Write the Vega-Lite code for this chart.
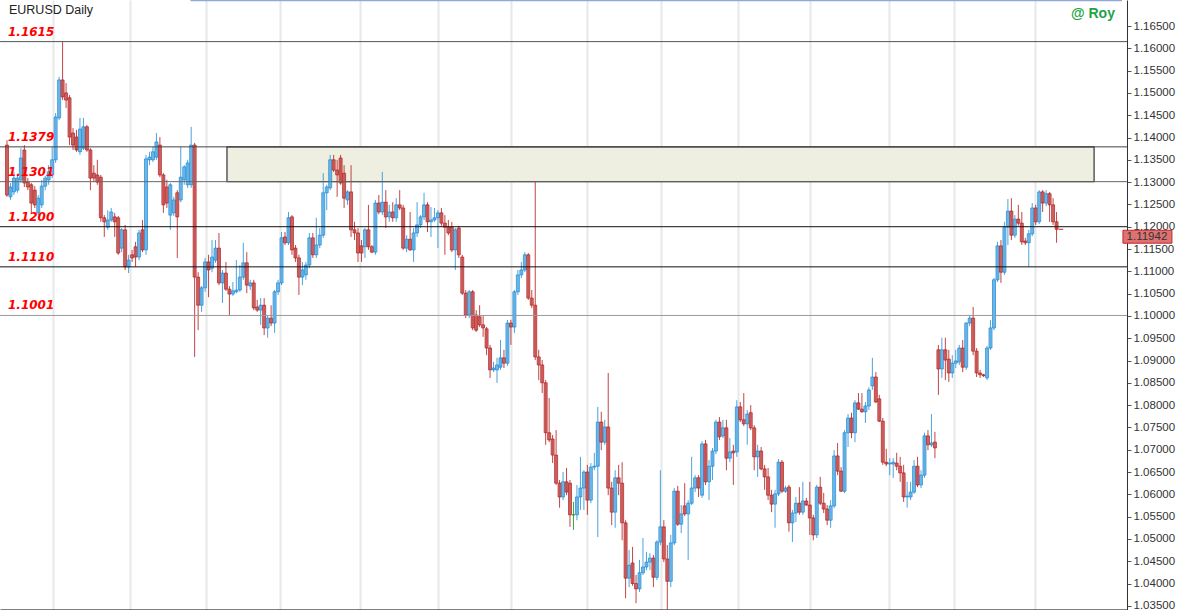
{
"$schema":"https://vega.github.io/schema/vega-lite/v6.json",
"width":1127,"height":610,
"autosize":{"type":"none"},
"padding":{"left":0,"top":0,"right":50,"bottom":0},
"background":"white",
"config":{"view":{"stroke":null},"font":"Liberation Sans","axis":{"labelOverlap":false}},
"datasets":{
"ohlc":[
{"i":0,"o":1.1383,"h":1.1394,"l":1.1267,"c":1.1271},
{"i":1,"o":1.1267,"h":1.1298,"l":1.1260,"c":1.1289},
{"i":2,"o":1.1278,"h":1.1323,"l":1.1271,"c":1.1309},
{"i":3,"o":1.1282,"h":1.1316,"l":1.1276,"c":1.1309},
{"i":4,"o":1.1305,"h":1.1376,"l":1.1298,"c":1.1354},
{"i":5,"o":1.1372,"h":1.1383,"l":1.1289,"c":1.1298},
{"i":6,"o":1.1300,"h":1.1309,"l":1.1282,"c":1.1289},
{"i":7,"o":1.1294,"h":1.1298,"l":1.1231,"c":1.1253},
{"i":8,"o":1.1282,"h":1.1291,"l":1.1242,"c":1.1249},
{"i":9,"o":1.1231,"h":1.1271,"l":1.1226,"c":1.1264},
{"i":10,"o":1.1249,"h":1.1305,"l":1.1242,"c":1.1291},
{"i":11,"o":1.1291,"h":1.1314,"l":1.1282,"c":1.1309},
{"i":12,"o":1.1305,"h":1.1338,"l":1.1294,"c":1.1323},
{"i":13,"o":1.1316,"h":1.1379,"l":1.1309,"c":1.1350},
{"i":14,"o":1.1350,"h":1.1455,"l":1.1343,"c":1.1446},
{"i":15,"o":1.1444,"h":1.1536,"l":1.1439,"c":1.1529},
{"i":16,"o":1.1529,"h":1.1615,"l":1.1484,"c":1.1491},
{"i":17,"o":1.1500,"h":1.1522,"l":1.1466,"c":1.1484},
{"i":18,"o":1.1489,"h":1.1495,"l":1.1383,"c":1.1401},
{"i":19,"o":1.1410,"h":1.1421,"l":1.1372,"c":1.1383},
{"i":20,"o":1.1401,"h":1.1417,"l":1.1368,"c":1.1372},
{"i":21,"o":1.1368,"h":1.1444,"l":1.1361,"c":1.1419},
{"i":22,"o":1.1376,"h":1.1444,"l":1.1372,"c":1.1424},
{"i":23,"o":1.1424,"h":1.1428,"l":1.1368,"c":1.1372},
{"i":24,"o":1.1372,"h":1.1376,"l":1.1282,"c":1.1309},
{"i":25,"o":1.1320,"h":1.1338,"l":1.1300,"c":1.1309},
{"i":26,"o":1.1316,"h":1.1350,"l":1.1294,"c":1.1300},
{"i":27,"o":1.1311,"h":1.1316,"l":1.1211,"c":1.1220},
{"i":28,"o":1.1220,"h":1.1226,"l":1.1177,"c":1.1211},
{"i":29,"o":1.1199,"h":1.1237,"l":1.1193,"c":1.1215},
{"i":30,"o":1.1215,"h":1.1242,"l":1.1211,"c":1.1233},
{"i":31,"o":1.1222,"h":1.1231,"l":1.1177,"c":1.1211},
{"i":32,"o":1.1220,"h":1.1224,"l":1.1137,"c":1.1141},
{"i":33,"o":1.1152,"h":1.1197,"l":1.1143,"c":1.1193},
{"i":34,"o":1.1193,"h":1.1204,"l":1.1103,"c":1.1110},
{"i":35,"o":1.1110,"h":1.1137,"l":1.1096,"c":1.1125},
{"i":36,"o":1.1137,"h":1.1148,"l":1.1121,"c":1.1130},
{"i":37,"o":1.1155,"h":1.1166,"l":1.1110,"c":1.1132},
{"i":38,"o":1.1132,"h":1.1193,"l":1.1125,"c":1.1186},
{"i":39,"o":1.1193,"h":1.1215,"l":1.1143,"c":1.1148},
{"i":40,"o":1.1148,"h":1.1361,"l":1.1137,"c":1.1352},
{"i":41,"o":1.1350,"h":1.1368,"l":1.1338,"c":1.1356},
{"i":42,"o":1.1350,"h":1.1379,"l":1.1345,"c":1.1368},
{"i":43,"o":1.1356,"h":1.1410,"l":1.1350,"c":1.1390},
{"i":44,"o":1.1383,"h":1.1401,"l":1.1311,"c":1.1316},
{"i":45,"o":1.1316,"h":1.1320,"l":1.1231,"c":1.1249},
{"i":46,"o":1.1289,"h":1.1305,"l":1.1242,"c":1.1253},
{"i":47,"o":1.1226,"h":1.1298,"l":1.1193,"c":1.1294},
{"i":48,"o":1.1231,"h":1.1267,"l":1.1224,"c":1.1260},
{"i":49,"o":1.1276,"h":1.1282,"l":1.1130,"c":1.1222},
{"i":50,"o":1.1260,"h":1.1379,"l":1.1255,"c":1.1311},
{"i":51,"o":1.1305,"h":1.1338,"l":1.1294,"c":1.1334},
{"i":52,"o":1.1294,"h":1.1350,"l":1.1287,"c":1.1343},
{"i":53,"o":1.1294,"h":1.1424,"l":1.1287,"c":1.1383},
{"i":54,"o":1.1383,"h":1.1388,"l":1.0908,"c":1.1087},
{"i":55,"o":1.1087,"h":1.1098,"l":1.0968,"c":1.1024},
{"i":56,"o":1.1024,"h":1.1067,"l":1.1009,"c":1.1063},
{"i":57,"o":1.1063,"h":1.1130,"l":1.1054,"c":1.1121},
{"i":58,"o":1.1121,"h":1.1137,"l":1.1042,"c":1.1103},
{"i":59,"o":1.1107,"h":1.1170,"l":1.1098,"c":1.1132},
{"i":60,"o":1.1125,"h":1.1170,"l":1.1119,"c":1.1152},
{"i":61,"o":1.1152,"h":1.1186,"l":1.1069,"c":1.1074},
{"i":62,"o":1.1074,"h":1.1103,"l":1.1029,"c":1.1096},
{"i":63,"o":1.1096,"h":1.1121,"l":1.1056,"c":1.1060},
{"i":64,"o":1.1060,"h":1.1067,"l":1.1002,"c":1.1049},
{"i":65,"o":1.1049,"h":1.1076,"l":1.1045,"c":1.1056},
{"i":66,"o":1.1054,"h":1.1125,"l":1.1051,"c":1.1058},
{"i":67,"o":1.1058,"h":1.1114,"l":1.1054,"c":1.1087},
{"i":68,"o":1.1087,"h":1.1164,"l":1.1081,"c":1.1119},
{"i":69,"o":1.1119,"h":1.1143,"l":1.1051,"c":1.1069},
{"i":70,"o":1.1067,"h":1.1081,"l":1.1058,"c":1.1074},
{"i":71,"o":1.1074,"h":1.1081,"l":1.1013,"c":1.1018},
{"i":72,"o":1.1020,"h":1.1036,"l":1.1009,"c":1.1013},
{"i":73,"o":1.1013,"h":1.1040,"l":1.0980,"c":1.1024},
{"i":74,"o":1.1024,"h":1.1040,"l":1.0957,"c":1.0973},
{"i":75,"o":1.0973,"h":1.1002,"l":1.0951,"c":1.0995},
{"i":76,"o":1.0995,"h":1.1024,"l":1.0977,"c":1.0984},
{"i":77,"o":1.0984,"h":1.1058,"l":1.0962,"c":1.1054},
{"i":78,"o":1.1054,"h":1.1081,"l":1.1047,"c":1.1074},
{"i":79,"o":1.1074,"h":1.1188,"l":1.1069,"c":1.1175},
{"i":80,"o":1.1177,"h":1.1188,"l":1.1159,"c":1.1164},
{"i":81,"o":1.1164,"h":1.1233,"l":1.1159,"c":1.1220},
{"i":82,"o":1.1222,"h":1.1226,"l":1.1137,"c":1.1148},
{"i":83,"o":1.1152,"h":1.1159,"l":1.1121,"c":1.1130},
{"i":84,"o":1.1130,"h":1.1137,"l":1.1047,"c":1.1087},
{"i":85,"o":1.1087,"h":1.1121,"l":1.1069,"c":1.1103},
{"i":86,"o":1.1092,"h":1.1121,"l":1.1081,"c":1.1114},
{"i":87,"o":1.1114,"h":1.1186,"l":1.1107,"c":1.1175},
{"i":88,"o":1.1175,"h":1.1186,"l":1.1130,"c":1.1137},
{"i":89,"o":1.1137,"h":1.1220,"l":1.1130,"c":1.1159},
{"i":90,"o":1.1159,"h":1.1197,"l":1.1152,"c":1.1181},
{"i":91,"o":1.1181,"h":1.1320,"l":1.1175,"c":1.1276},
{"i":92,"o":1.1276,"h":1.1294,"l":1.1237,"c":1.1289},
{"i":93,"o":1.1287,"h":1.1361,"l":1.1282,"c":1.1350},
{"i":94,"o":1.1350,"h":1.1361,"l":1.1323,"c":1.1327},
{"i":95,"o":1.1327,"h":1.1350,"l":1.1267,"c":1.1316},
{"i":96,"o":1.1354,"h":1.1361,"l":1.1294,"c":1.1298},
{"i":97,"o":1.1320,"h":1.1338,"l":1.1242,"c":1.1264},
{"i":98,"o":1.1260,"h":1.1282,"l":1.1249,"c":1.1278},
{"i":99,"o":1.1278,"h":1.1338,"l":1.1177,"c":1.1193},
{"i":100,"o":1.1193,"h":1.1211,"l":1.1170,"c":1.1186},
{"i":101,"o":1.1186,"h":1.1197,"l":1.1121,"c":1.1141},
{"i":102,"o":1.1157,"h":1.1170,"l":1.1121,"c":1.1141},
{"i":103,"o":1.1155,"h":1.1197,"l":1.1130,"c":1.1193},
{"i":104,"o":1.1193,"h":1.1249,"l":1.1148,"c":1.1155},
{"i":105,"o":1.1155,"h":1.1159,"l":1.1141,"c":1.1143},
{"i":106,"o":1.1143,"h":1.1260,"l":1.1137,"c":1.1253},
{"i":107,"o":1.1253,"h":1.1271,"l":1.1228,"c":1.1233},
{"i":108,"o":1.1233,"h":1.1323,"l":1.1226,"c":1.1255},
{"i":109,"o":1.1255,"h":1.1282,"l":1.1197,"c":1.1222},
{"i":110,"o":1.1222,"h":1.1249,"l":1.1211,"c":1.1233},
{"i":111,"o":1.1233,"h":1.1255,"l":1.1211,"c":1.1220},
{"i":112,"o":1.1220,"h":1.1264,"l":1.1211,"c":1.1249},
{"i":113,"o":1.1249,"h":1.1282,"l":1.1237,"c":1.1242},
{"i":114,"o":1.1242,"h":1.1249,"l":1.1148,"c":1.1152},
{"i":115,"o":1.1152,"h":1.1181,"l":1.1143,"c":1.1172},
{"i":116,"o":1.1172,"h":1.1233,"l":1.1146,"c":1.1148},
{"i":117,"o":1.1148,"h":1.1197,"l":1.1121,"c":1.1186},
{"i":118,"o":1.1186,"h":1.1255,"l":1.1177,"c":1.1204},
{"i":119,"o":1.1204,"h":1.1226,"l":1.1197,"c":1.1222},
{"i":120,"o":1.1222,"h":1.1276,"l":1.1215,"c":1.1249},
{"i":121,"o":1.1249,"h":1.1255,"l":1.1188,"c":1.1211},
{"i":122,"o":1.1211,"h":1.1244,"l":1.1177,"c":1.1215},
{"i":123,"o":1.1215,"h":1.1242,"l":1.1211,"c":1.1220},
{"i":124,"o":1.1220,"h":1.1237,"l":1.1152,"c":1.1231},
{"i":125,"o":1.1231,"h":1.1242,"l":1.1202,"c":1.1208},
{"i":126,"o":1.1208,"h":1.1226,"l":1.1137,"c":1.1199},
{"i":127,"o":1.1199,"h":1.1215,"l":1.1181,"c":1.1186},
{"i":128,"o":1.1199,"h":1.1211,"l":1.1143,"c":1.1148},
{"i":129,"o":1.1148,"h":1.1197,"l":1.1103,"c":1.1193},
{"i":130,"o":1.1197,"h":1.1202,"l":1.1130,"c":1.1137},
{"i":131,"o":1.1132,"h":1.1137,"l":1.1047,"c":1.1051},
{"i":132,"o":1.1051,"h":1.1058,"l":1.0995,"c":1.1002},
{"i":133,"o":1.1002,"h":1.1058,"l":1.0995,"c":1.1054},
{"i":134,"o":1.1054,"h":1.1058,"l":1.0968,"c":1.0973},
{"i":135,"o":1.1002,"h":1.1013,"l":1.0964,"c":1.0968},
{"i":136,"o":1.0998,"h":1.1024,"l":1.0975,"c":1.0980},
{"i":137,"o":1.0980,"h":1.1002,"l":1.0953,"c":1.0973},
{"i":138,"o":1.0971,"h":1.0975,"l":1.0912,"c":1.0928},
{"i":139,"o":1.0928,"h":1.0935,"l":1.0861,"c":1.0879},
{"i":140,"o":1.0879,"h":1.0897,"l":1.0874,"c":1.0883},
{"i":141,"o":1.0879,"h":1.0906,"l":1.0850,"c":1.0890},
{"i":142,"o":1.0885,"h":1.0946,"l":1.0879,"c":1.0906},
{"i":143,"o":1.0906,"h":1.0924,"l":1.0883,"c":1.0894},
{"i":144,"o":1.0894,"h":1.0991,"l":1.0888,"c":1.0984},
{"i":145,"o":1.0984,"h":1.0991,"l":1.0935,"c":1.0975},
{"i":146,"o":1.0975,"h":1.1058,"l":1.0962,"c":1.1054},
{"i":147,"o":1.1054,"h":1.1103,"l":1.1047,"c":1.1092},
{"i":148,"o":1.1092,"h":1.1121,"l":1.1085,"c":1.1103},
{"i":149,"o":1.1103,"h":1.1143,"l":1.1098,"c":1.1137},
{"i":150,"o":1.1137,"h":1.1141,"l":1.1036,"c":1.1040},
{"i":151,"o":1.1040,"h":1.1058,"l":1.1018,"c":1.1024},
{"i":152,"o":1.1024,"h":1.1301,"l":1.0901,"c":1.0908},
{"i":153,"o":1.0908,"h":1.0924,"l":1.0856,"c":1.0890},
{"i":154,"o":1.0890,"h":1.0901,"l":1.0827,"c":1.0850},
{"i":155,"o":1.0850,"h":1.0856,"l":1.0711,"c":1.0738},
{"i":156,"o":1.0738,"h":1.0816,"l":1.0717,"c":1.0722},
{"i":157,"o":1.0724,"h":1.0733,"l":1.0670,"c":1.0688},
{"i":158,"o":1.0688,"h":1.0744,"l":1.0621,"c":1.0625},
{"i":159,"o":1.0625,"h":1.0632,"l":1.0570,"c":1.0594},
{"i":160,"o":1.0594,"h":1.0650,"l":1.0587,"c":1.0628},
{"i":161,"o":1.0628,"h":1.0659,"l":1.0598,"c":1.0605},
{"i":162,"o":1.0625,"h":1.0632,"l":1.0527,"c":1.0554},
{"i":163,"o":1.0554,"h":1.0583,"l":1.0520,"c":1.0554},
{"i":164,"o":1.0554,"h":1.0621,"l":1.0542,"c":1.0594},
{"i":165,"o":1.0594,"h":1.0684,"l":1.0565,"c":1.0614},
{"i":166,"o":1.0614,"h":1.0654,"l":1.0565,"c":1.0650},
{"i":167,"o":1.0650,"h":1.0666,"l":1.0554,"c":1.0587},
{"i":168,"o":1.0587,"h":1.0670,"l":1.0580,"c":1.0661},
{"i":169,"o":1.0661,"h":1.0693,"l":1.0654,"c":1.0663},
{"i":170,"o":1.0663,"h":1.0796,"l":1.0504,"c":1.0762},
{"i":171,"o":1.0762,"h":1.0785,"l":1.0699,"c":1.0717},
{"i":172,"o":1.0717,"h":1.0767,"l":1.0711,"c":1.0751},
{"i":173,"o":1.0751,"h":1.0872,"l":1.0598,"c":1.0614},
{"i":174,"o":1.0614,"h":1.0628,"l":1.0531,"c":1.0560},
{"i":175,"o":1.0560,"h":1.0654,"l":1.0525,"c":1.0637},
{"i":176,"o":1.0637,"h":1.0666,"l":1.0598,"c":1.0625},
{"i":177,"o":1.0625,"h":1.0672,"l":1.0497,"c":1.0536},
{"i":178,"o":1.0536,"h":1.0542,"l":1.0367,"c":1.0412},
{"i":179,"o":1.0412,"h":1.0475,"l":1.0392,"c":1.0441},
{"i":180,"o":1.0446,"h":1.0482,"l":1.0395,"c":1.0400},
{"i":181,"o":1.0400,"h":1.0419,"l":1.0356,"c":1.0388},
{"i":182,"o":1.0388,"h":1.0453,"l":1.0381,"c":1.0424},
{"i":183,"o":1.0424,"h":1.0502,"l":1.0419,"c":1.0437},
{"i":184,"o":1.0437,"h":1.0471,"l":1.0430,"c":1.0448},
{"i":185,"o":1.0448,"h":1.0468,"l":1.0430,"c":1.0457},
{"i":186,"o":1.0457,"h":1.0464,"l":1.0392,"c":1.0414},
{"i":187,"o":1.0414,"h":1.0497,"l":1.0408,"c":1.0493},
{"i":188,"o":1.0493,"h":1.0654,"l":1.0486,"c":1.0527},
{"i":189,"o":1.0527,"h":1.0542,"l":1.0448,"c":1.0455},
{"i":190,"o":1.0455,"h":1.0486,"l":1.0341,"c":1.0405},
{"i":191,"o":1.0405,"h":1.0509,"l":1.0392,"c":1.0491},
{"i":192,"o":1.0491,"h":1.0614,"l":1.0486,"c":1.0607},
{"i":193,"o":1.0607,"h":1.0619,"l":1.0529,"c":1.0533},
{"i":194,"o":1.0533,"h":1.0576,"l":1.0513,"c":1.0556},
{"i":195,"o":1.0574,"h":1.0625,"l":1.0551,"c":1.0556},
{"i":196,"o":1.0556,"h":1.0587,"l":1.0453,"c":1.0580},
{"i":197,"o":1.0580,"h":1.0684,"l":1.0576,"c":1.0614},
{"i":198,"o":1.0614,"h":1.0643,"l":1.0605,"c":1.0637},
{"i":199,"o":1.0637,"h":1.0643,"l":1.0594,"c":1.0614},
{"i":200,"o":1.0598,"h":1.0719,"l":1.0592,"c":1.0713},
{"i":201,"o":1.0713,"h":1.0722,"l":1.0621,"c":1.0628},
{"i":202,"o":1.0628,"h":1.0677,"l":1.0587,"c":1.0663},
{"i":203,"o":1.0663,"h":1.0704,"l":1.0632,"c":1.0697},
{"i":204,"o":1.0697,"h":1.0767,"l":1.0690,"c":1.0762},
{"i":205,"o":1.0762,"h":1.0773,"l":1.0722,"c":1.0729},
{"i":206,"o":1.0731,"h":1.0767,"l":1.0726,"c":1.0749},
{"i":207,"o":1.0749,"h":1.0767,"l":1.0654,"c":1.0681},
{"i":208,"o":1.0681,"h":1.0726,"l":1.0672,"c":1.0695},
{"i":209,"o":1.0697,"h":1.0711,"l":1.0621,"c":1.0693},
{"i":210,"o":1.0695,"h":1.0811,"l":1.0684,"c":1.0796},
{"i":211,"o":1.0796,"h":1.0807,"l":1.0762,"c":1.0767},
{"i":212,"o":1.0767,"h":1.0827,"l":1.0753,"c":1.0758},
{"i":213,"o":1.0758,"h":1.0789,"l":1.0711,"c":1.0780},
{"i":214,"o":1.0783,"h":1.0800,"l":1.0744,"c":1.0749},
{"i":215,"o":1.0749,"h":1.0755,"l":1.0654,"c":1.0684},
{"i":216,"o":1.0684,"h":1.0711,"l":1.0639,"c":1.0697},
{"i":217,"o":1.0697,"h":1.0706,"l":1.0654,"c":1.0657},
{"i":218,"o":1.0657,"h":1.0666,"l":1.0610,"c":1.0639},
{"i":219,"o":1.0639,"h":1.0659,"l":1.0587,"c":1.0598},
{"i":220,"o":1.0598,"h":1.0610,"l":1.0560,"c":1.0578},
{"i":221,"o":1.0578,"h":1.0610,"l":1.0525,"c":1.0601},
{"i":222,"o":1.0601,"h":1.0679,"l":1.0596,"c":1.0672},
{"i":223,"o":1.0672,"h":1.0677,"l":1.0603,"c":1.0607},
{"i":224,"o":1.0607,"h":1.0619,"l":1.0603,"c":1.0614},
{"i":225,"o":1.0616,"h":1.0621,"l":1.0516,"c":1.0536},
{"i":226,"o":1.0536,"h":1.0565,"l":1.0493,"c":1.0558},
{"i":227,"o":1.0558,"h":1.0594,"l":1.0538,"c":1.0580},
{"i":228,"o":1.0580,"h":1.0616,"l":1.0554,"c":1.0560},
{"i":229,"o":1.0560,"h":1.0628,"l":1.0554,"c":1.0585},
{"i":230,"o":1.0585,"h":1.0592,"l":1.0574,"c":1.0576},
{"i":231,"o":1.0576,"h":1.0628,"l":1.0509,"c":1.0547},
{"i":232,"o":1.0547,"h":1.0554,"l":1.0497,"c":1.0509},
{"i":233,"o":1.0509,"h":1.0621,"l":1.0502,"c":1.0616},
{"i":234,"o":1.0616,"h":1.0639,"l":1.0576,"c":1.0580},
{"i":235,"o":1.0580,"h":1.0603,"l":1.0558,"c":1.0567},
{"i":236,"o":1.0567,"h":1.0576,"l":1.0531,"c":1.0542},
{"i":237,"o":1.0542,"h":1.0587,"l":1.0525,"c":1.0574},
{"i":238,"o":1.0574,"h":1.0699,"l":1.0569,"c":1.0686},
{"i":239,"o":1.0686,"h":1.0715,"l":1.0643,"c":1.0652},
{"i":240,"o":1.0652,"h":1.0661,"l":1.0605,"c":1.0607},
{"i":241,"o":1.0607,"h":1.0744,"l":1.0603,"c":1.0738},
{"i":242,"o":1.0738,"h":1.0780,"l":1.0706,"c":1.0771},
{"i":243,"o":1.0771,"h":1.0783,"l":1.0726,"c":1.0738},
{"i":244,"o":1.0738,"h":1.0811,"l":1.0717,"c":1.0805},
{"i":245,"o":1.0805,"h":1.0827,"l":1.0789,"c":1.0791},
{"i":246,"o":1.0791,"h":1.0827,"l":1.0783,"c":1.0785},
{"i":247,"o":1.0785,"h":1.0807,"l":1.0760,"c":1.0798},
{"i":248,"o":1.0798,"h":1.0840,"l":1.0789,"c":1.0834},
{"i":249,"o":1.0843,"h":1.0906,"l":1.0834,"c":1.0863},
{"i":250,"o":1.0863,"h":1.0874,"l":1.0805,"c":1.0807},
{"i":251,"o":1.0814,"h":1.0823,"l":1.0762,"c":1.0764},
{"i":252,"o":1.0764,"h":1.0771,"l":1.0666,"c":1.0672},
{"i":253,"o":1.0672,"h":1.0702,"l":1.0663,"c":1.0668},
{"i":254,"o":1.0668,"h":1.0681,"l":1.0643,"c":1.0670},
{"i":255,"o":1.0668,"h":1.0681,"l":1.0637,"c":1.0672},
{"i":256,"o":1.0670,"h":1.0693,"l":1.0654,"c":1.0663},
{"i":257,"o":1.0663,"h":1.0684,"l":1.0628,"c":1.0648},
{"i":258,"o":1.0648,"h":1.0666,"l":1.0583,"c":1.0594},
{"i":259,"o":1.0594,"h":1.0628,"l":1.0570,"c":1.0596},
{"i":260,"o":1.0594,"h":1.0628,"l":1.0587,"c":1.0605},
{"i":261,"o":1.0605,"h":1.0677,"l":1.0601,"c":1.0663},
{"i":262,"o":1.0663,"h":1.0684,"l":1.0616,"c":1.0621},
{"i":263,"o":1.0621,"h":1.0654,"l":1.0614,"c":1.0643},
{"i":264,"o":1.0643,"h":1.0738,"l":1.0637,"c":1.0731},
{"i":265,"o":1.0731,"h":1.0744,"l":1.0699,"c":1.0711},
{"i":266,"o":1.0711,"h":1.0780,"l":1.0706,"c":1.0715},
{"i":267,"o":1.0717,"h":1.0740,"l":1.0681,"c":1.0704},
{"i":268,"o":1.0924,"h":1.0935,"l":1.0823,"c":1.0881},
{"i":269,"o":1.0881,"h":1.0951,"l":1.0861,"c":1.0924},
{"i":270,"o":1.0924,"h":1.0951,"l":1.0856,"c":1.0901},
{"i":271,"o":1.0903,"h":1.0924,"l":1.0852,"c":1.0872},
{"i":272,"o":1.0872,"h":1.0912,"l":1.0861,"c":1.0894},
{"i":273,"o":1.0894,"h":1.0924,"l":1.0883,"c":1.0899},
{"i":274,"o":1.0897,"h":1.0935,"l":1.0890,"c":1.0928},
{"i":275,"o":1.0928,"h":1.0946,"l":1.0874,"c":1.0885},
{"i":276,"o":1.0885,"h":1.0986,"l":1.0879,"c":1.0984},
{"i":277,"o":1.0984,"h":1.1002,"l":1.0977,"c":1.0995},
{"i":278,"o":1.0995,"h":1.1020,"l":1.0912,"c":1.0921},
{"i":279,"o":1.0921,"h":1.0928,"l":1.0863,"c":1.0872},
{"i":280,"o":1.0872,"h":1.0879,"l":1.0861,"c":1.0868},
{"i":281,"o":1.0868,"h":1.0870,"l":1.0863,"c":1.0866},
{"i":282,"o":1.0861,"h":1.0933,"l":1.0856,"c":1.0928},
{"i":283,"o":1.0928,"h":1.0991,"l":1.0924,"c":1.0973},
{"i":284,"o":1.0973,"h":1.1085,"l":1.0968,"c":1.1081},
{"i":285,"o":1.1081,"h":1.1166,"l":1.1076,"c":1.1157},
{"i":286,"o":1.1157,"h":1.1170,"l":1.1074,"c":1.1098},
{"i":287,"o":1.1098,"h":1.1211,"l":1.1092,"c":1.1199},
{"i":288,"o":1.1199,"h":1.1262,"l":1.1159,"c":1.1235},
{"i":289,"o":1.1235,"h":1.1264,"l":1.1170,"c":1.1181},
{"i":290,"o":1.1181,"h":1.1226,"l":1.1175,"c":1.1217},
{"i":291,"o":1.1217,"h":1.1249,"l":1.1202,"c":1.1208},
{"i":292,"o":1.1208,"h":1.1233,"l":1.1159,"c":1.1166},
{"i":293,"o":1.1168,"h":1.1175,"l":1.1159,"c":1.1164},
{"i":294,"o":1.1164,"h":1.1193,"l":1.1110,"c":1.1184},
{"i":295,"o":1.1184,"h":1.1253,"l":1.1179,"c":1.1242},
{"i":296,"o":1.1242,"h":1.1249,"l":1.1204,"c":1.1211},
{"i":297,"o":1.1211,"h":1.1282,"l":1.1206,"c":1.1278},
{"i":298,"o":1.1278,"h":1.1282,"l":1.1233,"c":1.1253},
{"i":299,"o":1.1253,"h":1.1282,"l":1.1246,"c":1.1274},
{"i":300,"o":1.1274,"h":1.1278,"l":1.1211,"c":1.1249},
{"i":301,"o":1.1249,"h":1.1264,"l":1.1204,"c":1.1211},
{"i":302,"o":1.1211,"h":1.1233,"l":1.1164,"c":1.11942}
],
"levels":[
{"lv":1.1615,"lab":"1.1615"},
{"lv":1.1379,"lab":"1.1379"},
{"lv":1.1301,"lab":"1.1301"},
{"lv":1.12,"lab":"1.1200"},
{"lv":1.111,"lab":"1.1110"},
{"lv":1.1001,"lab":"1.1001"}
],
"zone":[{"x1":63.3,"x2":312.8,"y1":1.1379,"y2":1.1301}],
"tag":[{"x1":321.1,"x2":335.2,"y1":1.1192,"y2":1.1163,"xm":328.0,"ym":1.11772,"t":"1.11942","d1":302.6,"d2":303.9,"p":1.11942}],
"top":[{"x1":52.8,"x2":320.83,"y":1.1707}],
"title":[{"x":0.57,"y":1.1686,"t":"EURUSD Daily"}],
"sign":[{"x":318.8,"y":1.1677,"t":"@ Roy"}]
},
"layer":[
{"data":{"name":"zone"},
 "mark":{"type":"rect","fill":"#efefe1","stroke":"#333333","strokeWidth":1.2},
 "encoding":{
  "x":{"field":"x1","type":"quantitative","scale":{"domain":[-0.57,320.83],"nice":false,"zero":false},
   "axis":{"orient":"bottom","values":[13.1,35.4,57.3,78.7,101.5,124.0,145.1,166.8,188.2,210.2,231.0,253.8,272.6,295.7],"tickCount":40,"grid":true,"gridColor":"#e8e8e8","gridWidth":2,"labels":false,"ticks":false,"domain":true,"domainColor":"#000000","domainWidth":2,"title":null}},
  "x2":{"field":"x2"},
  "y":{"field":"y1","type":"quantitative","scale":{"domain":[1.03406,1.17083],"nice":false,"zero":false},
   "axis":{"orient":"right","values":[1.035,1.04,1.045,1.05,1.055,1.06,1.065,1.07,1.075,1.08,1.085,1.09,1.095,1.1,1.105,1.11,1.115,1.12,1.125,1.13,1.135,1.14,1.145,1.15,1.155,1.16,1.165],"tickCount":40,"format":".5f","grid":false,"tickSize":4,"tickColor":"#555555","domainColor":"#333333","domainWidth":1,"labelFontSize":11.5,"labelColor":"#333333","labelFont":"Liberation Sans","labelPadding":2,"labelOverlap":false,"labelFlush":false,"title":null}},
  "y2":{"field":"y2"}
 }},
{"data":{"name":"top"},
 "mark":{"type":"rule","stroke":"#8eaadb","strokeWidth":1.5},
 "encoding":{"x":{"field":"x1","type":"quantitative"},"x2":{"field":"x2"},"y":{"field":"y","type":"quantitative"}}},
{"data":{"name":"ohlc"},
 "mark":{"type":"rule","strokeWidth":1,"opacity":0.85},
 "encoding":{
  "x":{"field":"i","type":"quantitative"},
  "y":{"field":"l","type":"quantitative"},
  "y2":{"field":"h"},
  "color":{"condition":[{"test":"datum.c > datum.o","value":"#2b93d9"},{"test":"datum.c < datum.o","value":"#b82424"}],"value":"#1a9a1a"}
 }},
{"data":{"name":"ohlc"},
 "mark":{"type":"bar","fillOpacity":0.8,"strokeWidth":0.7},
 "encoding":{
  "x":{"field":"i","type":"quantitative"},
  "y":{"field":"o","type":"quantitative"},
  "y2":{"field":"c"},
  "size":{"value":3},
  "fill":{"condition":[{"test":"datum.c > datum.o","value":"#5eb0e6"},{"test":"datum.c < datum.o","value":"#c85050"}],"value":"#1a9a1a"},
  "stroke":{"condition":[{"test":"datum.c > datum.o","value":"#1a86d2"},{"test":"datum.c < datum.o","value":"#b01c1c"}],"value":"#1a9a1a"}
 }},
{"data":{"name":"levels"},
 "mark":{"type":"rule"},
 "encoding":{
  "y":{"field":"lv","type":"quantitative"},
  "color":{"field":"lab","type":"nominal","scale":{"domain":["1.1615","1.1379","1.1301","1.1200","1.1110","1.1001"],"range":["#555555","#444444","#666666","#111111","#111111","#999999"]},"legend":null},
  "strokeWidth":{"field":"lab","type":"nominal","scale":{"domain":["1.1615","1.1379","1.1301","1.1200","1.1110","1.1001"],"range":[1,1,1.2,1.3,1.3,2]},"legend":null}
 }},
{"data":{"name":"levels"},
 "mark":{"type":"text","align":"left","baseline":"alphabetic","dy":-6,"font":"DejaVu Sans","fontStyle":"italic","fontWeight":"bold","fontSize":12,"fill":"#ff0000"},
 "encoding":{
  "x":{"datum":0.29,"type":"quantitative"},
  "y":{"field":"lv","type":"quantitative"},
  "text":{"field":"lab"}
 }},
{"data":{"name":"tag"},
 "mark":{"type":"rect","fill":"#de7272","stroke":"#c42a2a","strokeWidth":1},
 "encoding":{"x":{"field":"x1","type":"quantitative"},"x2":{"field":"x2"},"y":{"field":"y1","type":"quantitative"},"y2":{"field":"y2"}}},
{"data":{"name":"tag"},
 "mark":{"type":"text","align":"center","baseline":"middle","font":"Liberation Sans","fontSize":11.5,"fill":"#333333"},
 "encoding":{"x":{"field":"xm","type":"quantitative"},"y":{"field":"ym","type":"quantitative"},"text":{"field":"t"}}},
{"data":{"name":"tag"},
 "mark":{"type":"rule","stroke":"#d02020","strokeWidth":1},
 "encoding":{"x":{"field":"d1","type":"quantitative"},"x2":{"field":"d2"},"y":{"field":"p","type":"quantitative"}}},
{"data":{"name":"title"},
 "mark":{"type":"text","align":"left","baseline":"middle","font":"Liberation Sans","fontSize":12.5,"fill":"#222222"},
 "encoding":{"x":{"field":"x","type":"quantitative"},"y":{"field":"y","type":"quantitative"},"text":{"field":"t"}}},
{"data":{"name":"sign"},
 "mark":{"type":"text","align":"right","baseline":"middle","font":"Liberation Sans","fontWeight":"bold","fontSize":14,"fill":"#1fa34a"},
 "encoding":{"x":{"field":"x","type":"quantitative"},"y":{"field":"y","type":"quantitative"},"text":{"field":"t"}}}
]
}
